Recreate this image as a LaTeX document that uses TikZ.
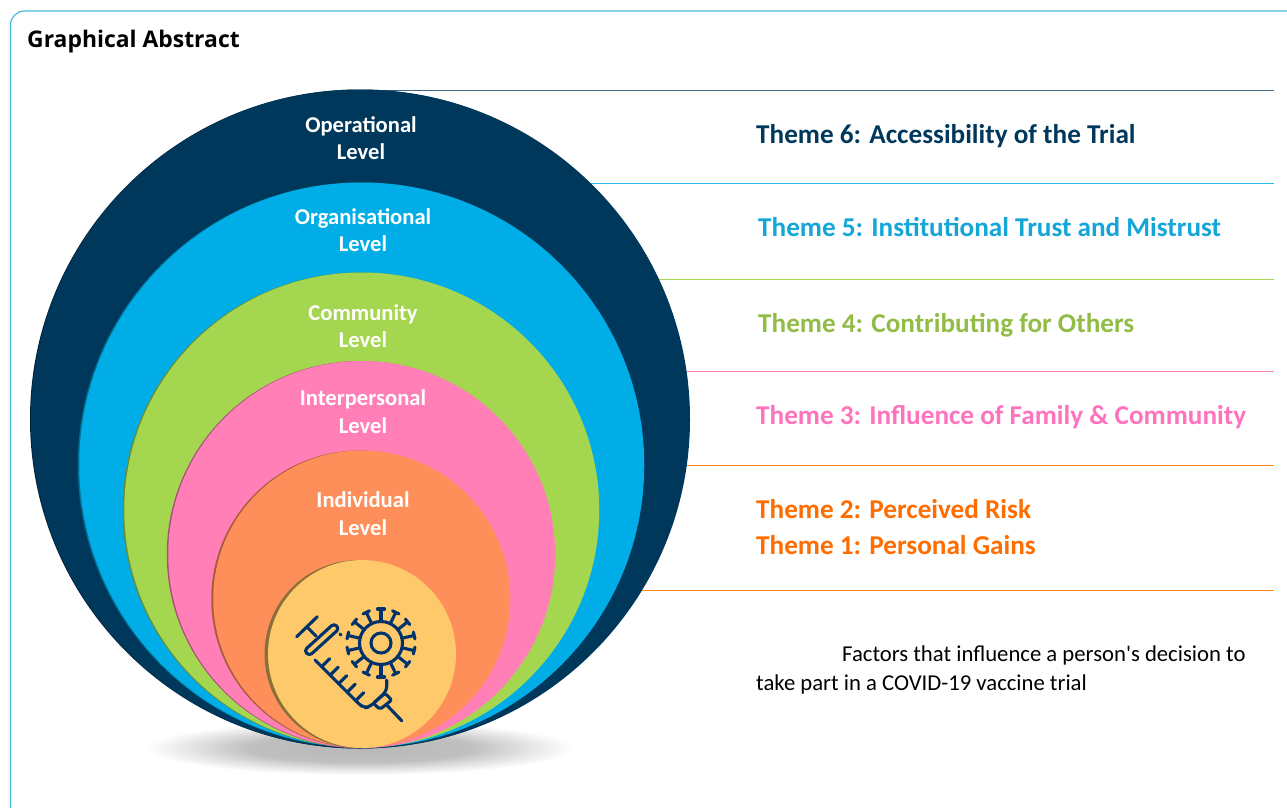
\documentclass[tikz,border=0pt]{standalone}
\usepackage{fontspec}
\setmainfont{Carlito}
\newfontfamily\titlefont{Open Sans}
\newfontfamily\factfont{Carlito}
\usetikzlibrary{positioning, calc}
\definecolor{mynavy}{HTML}{00385C}
\definecolor{myblue}{HTML}{00ADE6}
\definecolor{mygreen}{HTML}{A5D64F}
\definecolor{mypink}{HTML}{FF7FB6}
\definecolor{myorange}{HTML}{FF8F5A}
\definecolor{myyellow}{HTML}{FDC96A}
\definecolor{myframecol}{HTML}{4BB8D9}
\pgfdeclareradialshading{myblob}{\pgfpoint{0bp}{0bp}}{%
  color(0bp)=(black!28); color(13bp)=(black!25); color(19bp)=(black!12); color(25bp)=(white); color(50bp)=(white)}
\tikzset{
         mylevel/.style={font=\fontsize{22.6}{27.5}\selectfont\bfseries, text=white, align=center, inner sep=0pt},
         mytheme/.style={font=\fontsize{27.2}{30}\selectfont\bfseries, anchor=base west, inner sep=0pt},
         myline/.style={line width=1pt},
         myicon/.style={draw=mynavy!90!blue, line width=3.1pt, line cap=round, line join=round}
      }
\begin{document}
\begin{tikzpicture}[x=1pt,y=-1pt]
  \useasboundingbox (0,0) rectangle (1287,808);
  \draw[myframecol, line width=1.2pt, rounded corners=14pt] (10.5,808) -- (10.5,11) -- (1287,11);
  \node[font=\titlefont\fontsize{22.9}{26}\selectfont\bfseries, anchor=base west, inner sep=0pt] (title) at (27,47.5) {Graphical Abstract};
  % rules between the themes
  \draw[myline, mynavy!75] (385,90.5) -- (1274,90.5);
  \draw[myline, myblue!85] (560,183) -- (1274,183);
  \draw[myline, mygreen] (600,279) -- (1274,279);
  \draw[myline, mypink] (600,371) -- (1274,371);
  \draw[myline, orange!90!white] (600,465) -- (1274,465);
  \draw[myline, orange!90!white] (600,590) -- (1274,590);
  % shadow under the circles
  \shade[shading=myblob] (360,748) ellipse (214 and 27);
  % the circles
  \foreach \cx/\cy/\rad/\col/\off in {360.5/419/329.5/mynavy/1, 361.75/465/282.5/myblue/1.5, 361.75/510/237.5/mygreen/1.5, 361.75/554.5/193.5/mypink/1.5, 361.75/599/148.5/myorange/2}{
    \fill[\col!65!black] (\cx-\off,\cy) circle (\rad);
    \fill[\col] (\cx,\cy) circle (\rad);
  }
  \fill[myyellow!55!black] (358.5,654) circle (94);
  \fill[myyellow] (362,654) circle (94);
  % level names
  \node[mylevel] (oplevel) at (361,138) {Operational\\Level};
  \node[mylevel] (orglevel) at (363,230) {Organisational\\Level};
  \node[mylevel] (comlevel) at (363,326) {Community\\Level};
  \node[mylevel] (perlevel) at (363,411.5) {Interpersonal\\Level};
  \node[mylevel] (indlevel) at (363,513.5) {Individual\\Level};
  % themes
  \node[mytheme, text=mynavy] (theme6) at (756,143) {Theme 6: Accessibility of the Trial};
  \node[mytheme, text=myblue!85!gray] (theme5) at (758,236.5) {Theme 5: Institutional Trust and Mistrust};
  \node[mytheme, text=mygreen!88!black] (theme4) at (758,332) {Theme 4: Contributing for Others};
  \node[mytheme, text=mypink!90!magenta] (theme3) at (756,424.5) {Theme 3: Influence of Family \& Community};
  \node[mytheme, text=orange!85!red] (theme2) at (756,518.5) {Theme 2: Perceived Risk};
  \node[mytheme, text=orange!85!red] (theme1) at (756,554.5) {Theme 1: Personal Gains};
  \node[font=\factfont\fontsize{22.7}{29}\selectfont, anchor=west, align=left, inner sep=0pt] (factors) at (756,669.5)
       {\hspace*{86pt}Factors that influence a person's decision to\\take part in a COVID-19 vaccine trial};
  % virus
  \coordinate (virus) at (381,643);
  \draw[myicon] (virus) circle (10);
  \draw[myicon] (virus) circle (21.5);
  \foreach \a in {0,1,...,13}{
    \draw[myicon] (virus) ++({\a*360/14+90}:21.5) -- ++({\a*360/14+90}:12.5) ++({\a*360/14+180}:3.5) -- ++({\a*360/14}:7);
  }
  % syringe
  \draw[myicon] (296.7,636.7) -- (317.3,616.7);
  \draw[myicon] (306.7,626.7) -- (316,636);
  \draw[myicon, rounded corners=3.5pt] (304.1,650.7) -- (334.1,623.4) -- (339.3,628.6) -- (309.3,655.9) -- cycle;
  \draw[myicon] (340,634) -- (341,635);
  \draw[myicon, rounded corners=5pt] (315,660) -- (358.3,703.3) -- (364,708) -- (370,706.7) -- (386.7,691) -- (386.7,680);
  \foreach \t in {0,1,2,3,4}{
    \draw[myicon] ($(321.7,666.7)+(\t*8.5,\t*8.5)$) -- ++(8,-8);
  }
  \draw[myicon, rounded corners=2pt] (373.3,703.3) -- (385,693.3) -- (391.7,700) -- (380,709.3) -- cycle;
  \draw[myicon] (386.7,705) -- (401.7,720.7);
\end{tikzpicture}
\end{document}
